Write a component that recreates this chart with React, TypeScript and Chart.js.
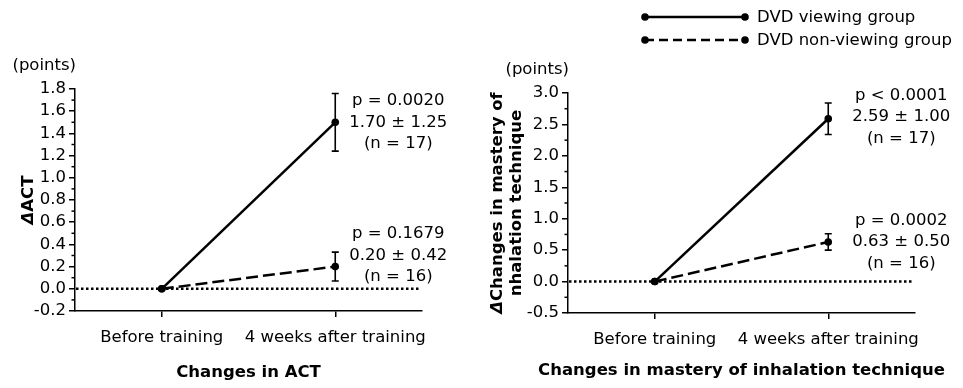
import React, { useEffect, useRef } from "react";
import { Chart, registerables } from "chart.js";

Chart.register(...registerables);

const categories = ["Before training", "4 weeks after training"];

const actViewing = [0, 1.5];
const actViewingErr = [0, 0.26];
const actNonViewing = [0, 0.2];
const actNonViewingErr = [0, 0.13];
const actYTicks = { min: -0.2, max: 1.8, step: 0.2, minor: 0.1 };
const actViewingNote = ["p = 0.0020", "1.70 ± 1.25", "(n = 17)"];
const actNonViewingNote = ["p = 0.1679", "0.20 ± 0.42", "(n = 16)"];

const inhViewing = [0, 2.59];
const inhViewingErr = [0, 0.25];
const inhNonViewing = [0, 0.63];
const inhNonViewingErr = [0, 0.13];
const inhYTicks = { min: -0.5, max: 3.0, step: 0.5, minor: 0.25 };
const inhViewingNote = ["p < 0.0001", "2.59 ± 1.00", "(n = 17)"];
const inhNonViewingNote = ["p = 0.0002", "0.63 ± 0.50", "(n = 16)"];

const legendLabels = ["DVD viewing group", "DVD non-viewing group"];

const FONT = "'DejaVu Sans', sans-serif";
const FS = 16.5;
const DASH = [12, 5];
const LEGEND_DASH = [9, 5];

type PanelCfg = {
  width: number;
  height: number;
  axisW: number;
  axisH: number;
  padTop: number;
  padRight: number;
  viewing: number[];
  viewingErr: number[];
  nonViewing: number[];
  nonViewingErr: number[];
  yt: { min: number; max: number; step: number; minor: number };
  notes: { lines: string[]; dy: number }[];
  noteDx: number;
  titleLines: string[];
  titleXs: number[];
  xTitle: string;
  xTitleDy: number;
  legend: boolean;
};

function makePlugin(cfg: PanelCfg) {
  return {
    id: "custom",
    beforeDatasetsDraw(chart: any) {
      const { ctx, chartArea } = chart;
      const y = chart.scales.y.getPixelForValue(0);
      ctx.save();
      ctx.strokeStyle = "#000";
      ctx.lineWidth = 2.5;
      ctx.setLineDash([2.5, 2.5]);
      ctx.beginPath();
      ctx.moveTo(chartArea.left + 1, y);
      ctx.lineTo(chartArea.right - 2, y);
      ctx.stroke();
      ctx.restore();
    },
    afterDatasetsDraw(chart: any) {
      const { ctx, chartArea } = chart;
      const ys = chart.scales.y;
      ctx.save();
      ctx.strokeStyle = "#000";
      ctx.fillStyle = "#000";
      ctx.setLineDash([]);
      // error bars
      const errs = [cfg.viewingErr, cfg.nonViewingErr];
      const vals = [cfg.viewing, cfg.nonViewing];
      errs.forEach((err, di) => {
        const meta = chart.getDatasetMeta(di);
        err.forEach((e, j) => {
          if (!e) return;
          const x = meta.data[j].x;
          const t = ys.getPixelForValue(vals[di][j] + e);
          const b = ys.getPixelForValue(vals[di][j] - e);
          ctx.lineWidth = 1.6;
          ctx.beginPath();
          ctx.moveTo(x, t);
          ctx.lineTo(x, b);
          ctx.moveTo(x - 3.5, t);
          ctx.lineTo(x + 3.5, t);
          ctx.moveTo(x - 3.5, b);
          ctx.lineTo(x + 3.5, b);
          ctx.stroke();
        });
      });
      // minor ticks
      ctx.lineWidth = 1.5;
      const n = Math.round((cfg.yt.max - cfg.yt.min) / cfg.yt.minor);
      for (let i = 0; i <= n; i++) {
        if (i % 2 === 0) continue;
        const v = cfg.yt.min + i * cfg.yt.minor;
        const py = ys.getPixelForValue(v);
        ctx.beginPath();
        ctx.moveTo(chartArea.left, py);
        ctx.lineTo(chartArea.left - 3.5, py);
        ctx.stroke();
      }
      // notes
      ctx.font = `${FS}px ${FONT}`;
      ctx.textAlign = "center";
      ctx.textBaseline = "middle";
      cfg.notes.forEach((note, di) => {
        const meta = chart.getDatasetMeta(di);
        const p = meta.data[meta.data.length - 1];
        const cx = p.x + cfg.noteDx;
        const cy = p.y + note.dy;
        note.lines.forEach((ln, k) => {
          ctx.fillText(ln, cx, cy + (k - 1) * 21.5);
        });
      });
      // (points)
      ctx.textAlign = "right";
      ctx.fillText("(points)", chartArea.left + 1, chartArea.top - 23);
      // x title
      ctx.font = `bold ${FS}px ${FONT}`;
      ctx.textAlign = "center";
      ctx.fillText(cfg.xTitle, (chartArea.left + chartArea.right) / 2, chartArea.bottom + cfg.xTitleDy);
      // y title (rotated)
      const cy = (chartArea.top + chartArea.bottom) / 2;
      cfg.titleLines.forEach((ln, k) => {
        ctx.save();
        ctx.translate(cfg.titleXs[k], cy);
        ctx.rotate(-Math.PI / 2);
        ctx.textAlign = "left";
        ctx.textBaseline = "middle";
        const hasDelta = k === 0;
        ctx.font = `italic bold ${FS}px ${FONT}`;
        const dw = hasDelta ? ctx.measureText("Δ").width : 0;
        ctx.font = `bold ${FS}px ${FONT}`;
        const tw = ctx.measureText(ln).width;
        let x0 = -(dw + tw) / 2;
        if (hasDelta) {
          ctx.font = `italic bold ${FS}px ${FONT}`;
          ctx.fillText("Δ", x0, 0);
          x0 += dw;
          ctx.font = `bold ${FS}px ${FONT}`;
        }
        ctx.fillText(ln, x0, 0);
        ctx.restore();
      });
      // legend
      if (cfg.legend) {
        const rows = [17, 40];
        rows.forEach((ry, k) => {
          ctx.lineWidth = 2.5;
          ctx.setLineDash(k === 0 ? [] : LEGEND_DASH);
          ctx.beginPath();
          ctx.moveTo(164, ry);
          ctx.lineTo(264, ry);
          ctx.stroke();
          ctx.setLineDash([]);
          [164, 264].forEach((dx) => {
            ctx.beginPath();
            ctx.arc(dx, ry, 3.8, 0, Math.PI * 2);
            ctx.fill();
          });
          ctx.font = `${FS}px ${FONT}`;
          ctx.textAlign = "left";
          ctx.textBaseline = "middle";
          ctx.fillText(legendLabels[k], 276, ry + 1);
        });
      }
      ctx.restore();
    },
  };
}

function Panel({ cfg, left }: { cfg: PanelCfg; left: number }) {
  const ref = useRef<HTMLCanvasElement>(null);
  useEffect(() => {
    if (!ref.current) return;
    const chart = new Chart(ref.current, {
      type: "line",
      data: {
        labels: categories,
        datasets: [
          {
            data: cfg.viewing,
            borderColor: "#000",
            backgroundColor: "#000",
            borderWidth: 2.5,
            pointRadius: 3.8,
            pointBackgroundColor: "#000",
            pointBorderColor: "#000",
            pointBorderWidth: 0,
          },
          {
            data: cfg.nonViewing,
            borderColor: "#000",
            backgroundColor: "#000",
            borderWidth: 2.5,
            borderDash: DASH,
            pointRadius: 3.8,
            pointBackgroundColor: "#000",
            pointBorderColor: "#000",
            pointBorderWidth: 0,
          },
        ],
      },
      options: {
        responsive: false,
        animation: false,
        events: [],
        layout: { padding: { top: cfg.padTop, right: cfg.padRight, left: 0, bottom: 0 } },
        plugins: { legend: { display: false }, tooltip: { enabled: false }, title: { display: false } },
        scales: {
          x: {
            type: "category",
            offset: true,
            grid: { display: true, drawOnChartArea: false, drawTicks: true, tickLength: 6, offset: false, color: "#000", lineWidth: 1.5 },
            border: { display: true, color: "#000", width: 1.5 },
            ticks: { color: "#000", font: { family: FONT, size: FS }, padding: 11, maxRotation: 0, autoSkip: false },
            afterFit: (s: any) => {
              s.height = cfg.axisH;
            },
          },
          y: {
            min: cfg.yt.min,
            max: cfg.yt.max,
            grid: { display: true, drawOnChartArea: false, drawTicks: true, tickLength: 6, color: "#000", lineWidth: 1.5 },
            border: { display: true, color: "#000", width: 1.5 },
            ticks: {
              stepSize: cfg.yt.step,
              autoSkip: false,
              color: "#000",
              font: { family: FONT, size: FS },
              padding: 3,
              callback: (v: any) => Number(v).toFixed(1),
            },
            afterFit: (s: any) => {
              s.width = cfg.axisW;
            },
          },
        },
      } as any,
      plugins: [makePlugin(cfg) as any],
    });
    return () => chart.destroy();
  }, []);
  return (
    <div style={{ position: "absolute", left, top: 0, width: cfg.width, height: cfg.height }}>
      <canvas ref={ref} width={cfg.width} height={cfg.height} style={{ display: "block" }} />
    </div>
  );
}

const leftCfg: PanelCfg = {
  width: 481,
  height: 388,
  axisW: 75,
  axisH: 77,
  padTop: 89,
  padRight: 59,
  viewing: actViewing,
  viewingErr: actViewingErr,
  nonViewing: actNonViewing,
  nonViewingErr: actNonViewingErr,
  yt: actYTicks,
  notes: [
    { lines: actViewingNote, dy: 0 },
    { lines: actNonViewingNote, dy: -11 },
  ],
  noteDx: 63,
  titleLines: ["ACT"],
  titleXs: [29],
  xTitle: "Changes in ACT",
  xTitleDy: 62,
  legend: false,
};

const rightCfg: PanelCfg = {
  width: 482,
  height: 388,
  axisW: 87,
  axisH: 75,
  padTop: 93,
  padRight: 48,
  viewing: inhViewing,
  viewingErr: inhViewingErr,
  nonViewing: inhNonViewing,
  nonViewingErr: inhNonViewingErr,
  yt: inhYTicks,
  notes: [
    { lines: inhViewingNote, dy: -2 },
    { lines: inhNonViewingNote, dy: 0 },
  ],
  noteDx: 73,
  titleLines: ["Changes in mastery of", "nhalation technique"],
  titleXs: [17, 36],
  xTitle: "Changes in mastery of inhalation technique",
  xTitleDy: 58,
  legend: true,
};

export default function App() {
  return (
    <div style={{ position: "absolute", left: 0, top: 0, width: 963, height: 388, background: "#fff" }}>
      <Panel cfg={leftCfg} left={0} />
      <Panel cfg={rightCfg} left={481} />
    </div>
  );
}
